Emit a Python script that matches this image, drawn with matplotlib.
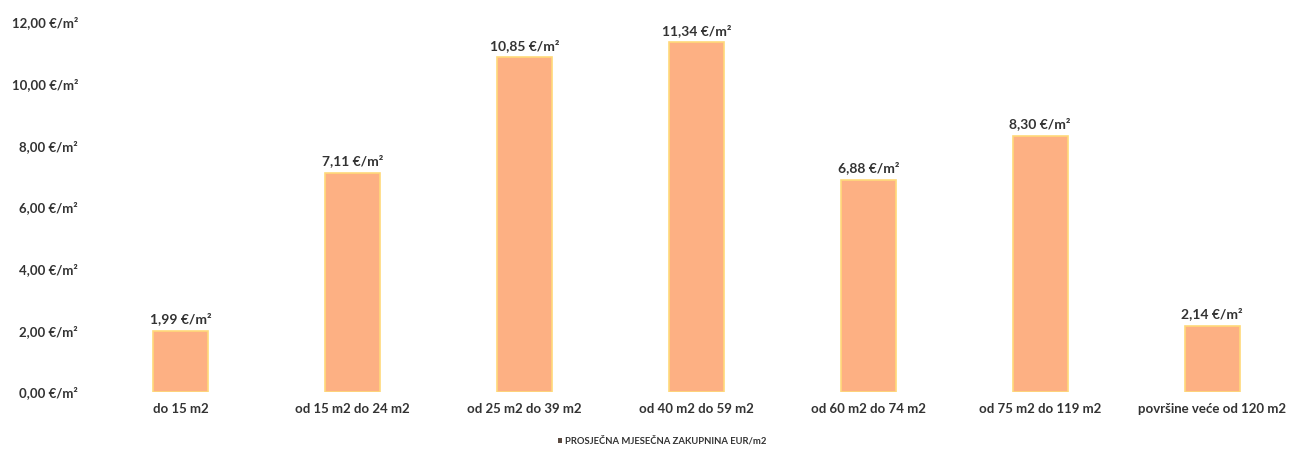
import matplotlib
matplotlib.use("Agg")
import matplotlib.pyplot as plt
from matplotlib.ticker import FuncFormatter
from matplotlib.patches import Patch

categories = ["do 15 m2", "od 15 m2 do 24 m2", "od 25 m2 do 39 m2", "od 40 m2 do 59 m2",
              "od 60 m2 do 74 m2", "od 75 m2 do 119 m2", "površine veće od 120 m2"]
values = [1.99, 7.11, 10.85, 11.34, 6.88, 8.30, 2.14]
series_name = "PROSJEČNA MJESEČNA ZAKUPNINA EUR/m2"
yticks = [0, 2, 4, 6, 8, 10, 12]

plt.rcParams['font.family'] = ['Lato', 'DejaVu Sans']
text_color = "#333333"

fig = plt.figure(figsize=(12.98, 4.5), dpi=100)
ax = fig.add_axes([0.073, 0.129, 0.927, 0.822])

bars = ax.bar(range(len(categories)), values, width=0.32, color="#FDB083",
              edgecolor="#FFD97A", linewidth=1.2, label=series_name)

def fmt(v):
    return f"{v:.2f}".replace(".", ",") + " €/m²"

ax.bar_label(bars, labels=[fmt(v) for v in values], padding=4,
             fontsize=10, fontweight="bold", color=text_color)

ax.set_ylim(0, 12)
ax.set_xlim(-0.5, len(categories) - 0.5)
ax.set_yticks(yticks)
ax.yaxis.set_major_formatter(FuncFormatter(lambda v, p: fmt(v)))
ax.set_xticks(range(len(categories)))
ax.set_xticklabels(categories)
ax.tick_params(axis="both", length=0, colors=text_color, labelsize=9.5)
ax.tick_params(axis="y", pad=12)
ax.tick_params(axis="x", pad=8)
for lbl in ax.get_xticklabels() + ax.get_yticklabels():
    lbl.set_fontweight("bold")
for s in ax.spines.values():
    s.set_visible(False)

handle = Patch(facecolor="#5a4a40", edgecolor="none")
leg = fig.legend(handles=[handle], labels=[series_name], loc="lower center",
                 bbox_to_anchor=(0.51, -0.01), frameon=False, fontsize=6.8,
                 handlelength=0.5, handleheight=0.5, handletextpad=0.3)
for t in leg.get_texts():
    t.set_fontweight("bold")
    t.set_color(text_color)

fig.savefig("out.png", dpi=100)
